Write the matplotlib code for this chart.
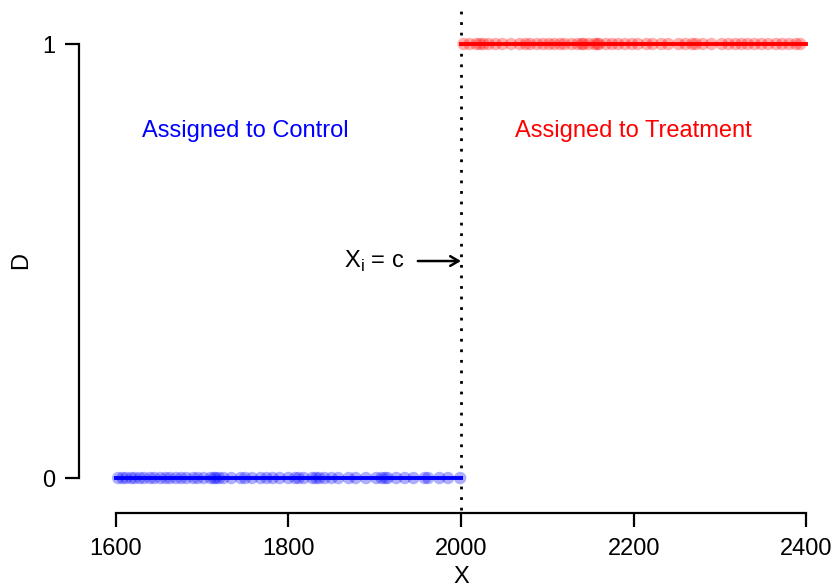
import matplotlib.pyplot as plt

plt.rcParams['font.family'] = ['Liberation Sans', 'DejaVu Sans']

cutoff = 2000
control_x = [1603, 1608, 1612, 1618, 1622, 1628, 1633, 1640, 1645, 1652, 1658, 1663,
             1670, 1676, 1682, 1690, 1695, 1702, 1710, 1714, 1716, 1720, 1725, 1734,
             1745, 1750, 1758, 1768, 1775, 1782, 1790, 1800, 1808, 1812, 1818, 1828,
             1832, 1836, 1842, 1850, 1858, 1870, 1878, 1890, 1902, 1908, 1912, 1915,
             1925, 1935, 1945, 1958, 1962, 1975, 1985, 1999]
treat_x = [2003, 2010, 2018, 2022, 2026, 2032, 2040, 2048, 2058, 2068, 2075, 2080,
           2088, 2095, 2102, 2108, 2115, 2120, 2128, 2135, 2140, 2142, 2148, 2155,
           2158, 2160, 2168, 2175, 2182, 2190, 2198, 2205, 2215, 2222, 2232, 2240,
           2252, 2260, 2268, 2272, 2280, 2290, 2302, 2310, 2318, 2325, 2332, 2340,
           2348, 2356, 2365, 2372, 2380, 2388, 2393]
x_ticks = [1600, 1800, 2000, 2200, 2400]
y_ticks = [0, 1]

W, H = 837, 586
fig = plt.figure(figsize=(W / 100, H / 100), dpi=100)
ax = fig.add_axes([88 / W, 1 - 513 / H, (834 - 88) / W, (513 - 8) / H])

ax.scatter(control_x, [0] * len(control_x), s=80, color=(0, 0, 1, 0.32), edgecolors='none', zorder=2)
ax.scatter(treat_x, [1] * len(treat_x), s=80, color=(1, 0, 0, 0.32), edgecolors='none', zorder=2)
ax.plot([1600, cutoff], [0, 0], color='blue', lw=2.8, zorder=3)
ax.plot([cutoff, 2400], [1, 1], color='red', lw=2.8, zorder=3)
ax.vlines(cutoff, -0.074, 1.083, colors='black', linestyles=(0, (1, 2.8)), lw=2)

ax.text(1750, 0.8, 'Assigned to Control', color='blue', fontsize=17, ha='center', va='center')
ax.text(2200, 0.8, 'Assigned to Treatment', color='red', fontsize=17, ha='center', va='center')
ax.annotate('', xy=(cutoff, 0.5), xytext=(1950, 0.5),
            arrowprops=dict(arrowstyle='->,head_length=0.6,head_width=0.35',
                            color='black', lw=1.8, shrinkA=0, shrinkB=0))
ax.text(1900, 0.5, r'X$_\mathregular{i}$ = c', fontsize=17, ha='center', va='center')

ax.set_xlim(1568, 2432)
ax.set_ylim(-0.0806, 1.083)
ax.set_xticks(x_ticks)
ax.set_yticks(y_ticks)
for s in ['top', 'right']:
    ax.spines[s].set_visible(False)
ax.spines['left'].set_position(('outward', 6.5))
ax.spines['left'].set_bounds(0, 1)
ax.spines['bottom'].set_bounds(1600, 2400)
ax.spines['left'].set_linewidth(1.6)
ax.spines['bottom'].set_linewidth(1.6)
ax.tick_params(axis='both', labelsize=17, width=1.6, length=10)
ax.tick_params(axis='x', pad=8)
ax.tick_params(axis='y', pad=7)
ax.set_xlabel('X', fontsize=17, labelpad=4)
ax.set_ylabel('D', fontsize=17, labelpad=7)

fig.savefig('out.png', dpi=100)
